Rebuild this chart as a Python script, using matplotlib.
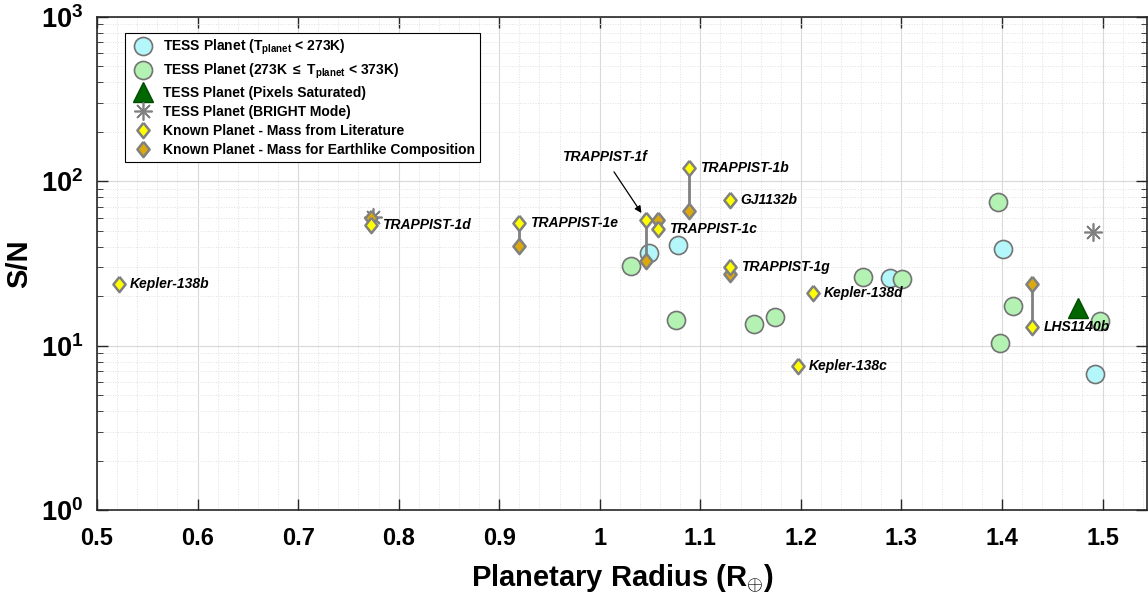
import numpy as np
import matplotlib
matplotlib.use('Agg')
import matplotlib.pyplot as plt
from matplotlib.ticker import FixedLocator, FuncFormatter, LogLocator, MultipleLocator, NullFormatter

plt.rcParams['font.family'] = ['Liberation Sans', 'DejaVu Sans']
plt.rcParams['font.weight'] = 'bold'
plt.rcParams['mathtext.fontset'] = 'custom'
plt.rcParams['mathtext.rm'] = 'Liberation Sans:bold'
plt.rcParams['mathtext.bf'] = 'Liberation Sans:bold'
plt.rcParams['mathtext.it'] = 'Liberation Sans:bold:italic'
plt.rcParams['mathtext.default'] = 'bf'

# TESS planets, T < 273K
cold_r = [1.049, 1.078, 1.289, 1.401, 1.492]
cold_sn = [36.7, 41.0, 25.8, 38.8, 6.7]
# TESS planets, 273K <= T < 373K
temp_r = [1.031, 1.076, 1.153, 1.174, 1.262, 1.301, 1.396, 1.411, 1.398, 1.497]
temp_sn = [30.5, 14.3, 13.6, 15.0, 26.2, 25.5, 75.0, 17.5, 10.4, 14.1]
# saturated pixels
sat_r = [1.476]
sat_sn = [17.0]
# BRIGHT mode
bright_r = [0.774, 1.490]
bright_sn = [61.0, 49.5]

# known planets
known_names = ['Kepler-138b', 'TRAPPIST-1d', 'TRAPPIST-1e', 'TRAPPIST-1f', 'TRAPPIST-1c',
               'TRAPPIST-1b', 'GJ1132b', 'TRAPPIST-1g', 'Kepler-138d', 'Kepler-138c', 'LHS1140b']
known_r = [0.522, 0.772, 0.920, 1.046, 1.058, 1.089, 1.129, 1.129, 1.212, 1.197, 1.430]
lit_sn = [23.7, 54.3, 55.8, 58.2, 51.3, 120.7, 77.0, 30.1, 20.9, 7.5, 13.0]
earth_sn = [np.nan, 59.9, 40.4, 32.8, 58.0, 66.0, np.nan, 27.3, np.nan, np.nan, 23.7]

fig = plt.figure(figsize=(11.48, 6.04), dpi=100)
ax = fig.add_axes([0.0845, 0.1556, 0.9145, 0.8163])

cyan = (0.7, 0.97, 0.98)
lgreen = (0.7, 0.95, 0.7)
edge = (0.45, 0.45, 0.45)
orange = (0.86, 0.66, 0.05)
diam = [(0, 1), (0.8, 0), (0, -1), (-0.8, 0), (0, 1)]

ax.plot(cold_r, cold_sn, 'o', ms=13, mfc=cyan, mec=edge, mew=1.2, ls='none', zorder=3,
        label=r'TESS Planet (T$_{\mathbf{planet}}$ < 273K)')
ax.plot(temp_r, temp_sn, 'o', ms=13, mfc=lgreen, mec=edge, mew=1.2, ls='none', zorder=3,
        label=r'TESS Planet (273K $\leq$ T$_{\mathbf{planet}}$ < 373K)')
ax.plot(sat_r, sat_sn, '^', ms=14, mfc=(0, 0.4, 0), mec=(0, 0.3, 0), mew=1, ls='none', zorder=3,
        label='TESS Planet (Pixels Saturated)')
ax.plot(bright_r, bright_sn, marker=(8, 2, 0), ms=13, color=(0.5, 0.5, 0.5), mew=1.2, ls='none',
        zorder=3, label='TESS Planet (BRIGHT Mode)')

for r, a, b in zip(known_r, lit_sn, earth_sn):
    if not np.isnan(b):
        ax.plot([r, r], [a, b], color=(0.5, 0.5, 0.5), lw=2, zorder=4)

ax.plot(known_r, earth_sn, marker=diam, ms=11, mfc=orange, mec=(0.5, 0.5, 0.5), mew=1.8,
        ls='none', zorder=5)
ax.plot(known_r, lit_sn, marker=diam, ms=11, mfc=(1, 1, 0), mec=(0.5, 0.5, 0.5), mew=1.8,
        ls='none', zorder=6)
# legend proxies
ax.plot([], [], marker=diam, ms=11, mfc=(1, 1, 0), mec=(0.5, 0.5, 0.5), mew=1.8, ls='none',
        label='Known Planet - Mass from Literature')
ax.plot([], [], marker=diam, ms=11, mfc=orange, mec=(0.5, 0.5, 0.5), mew=1.8, ls='none',
        label='Known Planet - Mass for Earthlike Composition')

for name, r, s in zip(known_names, known_r, lit_sn):
    if name == 'TRAPPIST-1f':
        ax.annotate(name, xy=(r, s), xytext=(-30, 45), textcoords='offset points',
                    ha='center', va='center', fontsize=10, fontweight='bold', fontstyle='italic',
                    arrowprops=dict(arrowstyle='-|>', color='k', lw=0.9, shrinkA=4, shrinkB=6,
                                    mutation_scale=10), zorder=7)
    else:
        ax.annotate(name, xy=(r, s), xytext=(8, 0), textcoords='offset points',
                    ha='left', va='center', fontsize=10, fontweight='bold', fontstyle='italic',
                    zorder=7)

ax.set_yscale('log')
ax.set_xlim(0.5, 1.544)
ax.set_ylim(1, 1000)
ax.xaxis.set_major_locator(MultipleLocator(0.1))
ax.xaxis.set_minor_locator(MultipleLocator(0.02))
ax.xaxis.set_major_formatter(FuncFormatter(lambda v, p: '%g' % round(v, 2)))
ax.yaxis.set_major_locator(FixedLocator([1, 10, 100, 1000]))
ax.yaxis.set_minor_locator(LogLocator(base=10, subs=np.arange(2, 10)))
ax.yaxis.set_minor_formatter(NullFormatter())
ax.yaxis.set_major_formatter(FuncFormatter(lambda v, p: r'$\mathbf{10^{%d}}$' % round(np.log10(v))))

ax.tick_params(which='major', direction='in', length=8, width=1, top=True, right=True,
               colors=(0.15, 0.15, 0.15), labelcolor='k')
ax.tick_params(axis='x', which='major', pad=12, labelsize=17)
ax.tick_params(axis='y', which='major', pad=10, labelsize=19.5)
ax.tick_params(axis='y', which='minor', direction='in', length=4, right=True, colors=(0.15, 0.15, 0.15))
ax.tick_params(axis='x', which='minor', length=0)
for lab in ax.get_xticklabels() + ax.get_yticklabels():
    lab.set_fontweight('bold')

ax.grid(True, which='major', color=(0.85, 0.85, 0.85), lw=0.8, zorder=0)
ax.grid(True, which='minor', color=(0.88, 0.88, 0.88), lw=0.7, ls=':', zorder=0)
ax.set_axisbelow(True)
for sp in ax.spines.values():
    sp.set_color((0.15, 0.15, 0.15))
    sp.set_linewidth(1.2)

ax.set_xlabel(r'Planetary Radius (R$_{\oplus}$)', fontsize=21, fontweight='bold', labelpad=9)
ax.set_ylabel('S/N', fontsize=21, fontweight='bold', labelpad=5)

leg = ax.legend(loc='upper left', bbox_to_anchor=(0.027, 0.968), borderaxespad=0, fontsize=10,
                frameon=True, fancybox=False, edgecolor='k', framealpha=1, handletextpad=0.45,
                labelspacing=0.36, borderpad=0.35, handlelength=1.9)
leg.get_frame().set_linewidth(0.8)
for t in leg.get_texts():
    t.set_fontweight('bold')

fig.savefig('out.png', dpi=100)
